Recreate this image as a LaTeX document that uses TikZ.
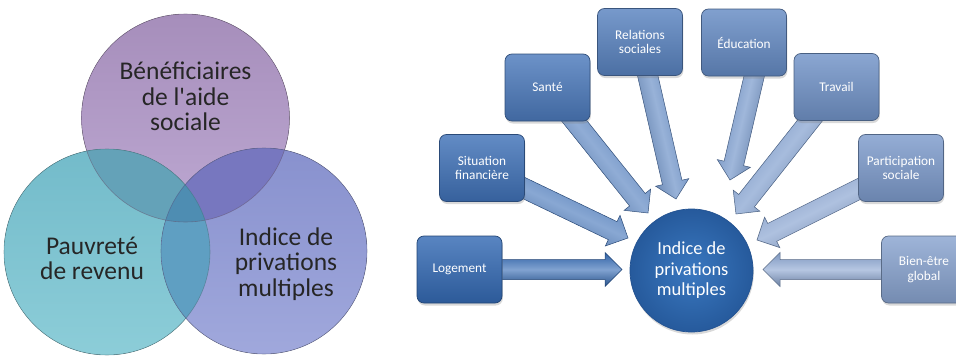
\documentclass[tikz,border=0pt]{standalone}
\usepackage{fontspec}
\setmainfont{Carlito}
\usetikzlibrary{calc,shadows,backgrounds}
\definecolor{c1}{RGB}{52,106,180}
\definecolor{c2}{RGB}{64,114,184}
\definecolor{c3}{RGB}{76,122,188}
\definecolor{c4}{RGB}{89,131,192}
\definecolor{c5}{RGB}{101,139,196}
\definecolor{c6}{RGB}{113,147,200}
\definecolor{c7}{RGB}{125,155,204}
\definecolor{c8}{RGB}{137,164,208}
\definecolor{ctrin}{RGB}{58,120,192}
\definecolor{ctrout}{RGB}{38,90,156}
\definecolor{ctrdraw}{RGB}{35,82,145}
\definecolor{Ptop}{RGB}{166,142,187}
\definecolor{Pbot}{RGB}{189,168,210}
\definecolor{Ttop}{RGB}{115,187,202}
\definecolor{Tbot}{RGB}{140,205,216}
\definecolor{Btop}{RGB}{136,145,206}
\definecolor{Bbot}{RGB}{160,168,220}
\definecolor{PT}{RGB}{100,162,184}
\definecolor{PB}{RGB}{119,119,191}
\definecolor{TB}{RGB}{95,159,194}
\definecolor{PTB}{RGB}{78,141,178}
\tikzset{
  boxnode/.style={draw=#1!65!black, line width=0.7pt, rounded corners=7pt,
    top color=#1!82!white, bottom color=#1!85!black,
    minimum width=85pt, minimum height=67pt, text=white,
    font=\fontsize{13.3}{14.5}\selectfont, align=center, inner sep=2pt,
    drop shadow={shadow xshift=0.8pt, shadow yshift=-2.5pt, opacity=0.3}},
  barrow/.style={draw=#1!65!black, line width=0.5pt,
    top color=#1!92!black, bottom color=#1!78!black, middle color=#1!62!white},
  venntext/.style={text=black!85, align=center, inner sep=0pt,
    font=\fontsize{25.5}{25.5}\selectfont},
  centrenode/.style={circle, minimum size=123pt, inner sep=0pt, text=white,
    shading=radial, inner color=ctrin, outer color=ctrout, draw=ctrdraw, line width=0.7pt,
    align=center, font=\fontsize{18.4}{20.5}\selectfont,
    drop shadow={shadow xshift=0.8pt, shadow yshift=-2.5pt, opacity=0.3}},
  circline/.style={draw=#1, line width=0.6pt, opacity=0.55}
}
\newcommand\blockarrow[4]{%
  \coordinate (#1-#2-h) at ($(#2)!17pt!(#1)$);
  \path[barrow=#4, shading angle=#3]
    ($(#1)!10pt!90:(#2)$) -- ($(#1-#2-h)!10pt!90:(#2)$) -- ($(#1-#2-h)!17pt!90:(#2)$)
    -- (#2) -- ($(#1-#2-h)!17pt!-90:(#2)$) -- ($(#1-#2-h)!10pt!-90:(#2)$)
    -- ($(#1)!10pt!-90:(#2)$) -- cycle;
}
\def\topc{(185.5,118) circle[radius=104]}
\def\leftc{(107,252) circle[radius=103]}
\def\rightc{(264,251) circle[radius=103]}
\begin{document}
\begin{tikzpicture}[x=1pt,y=-1pt]
\useasboundingbox (0,0) rectangle (956,356);
\clip (0,0) rectangle (956,356);
% Venn diagram
\fill[top color=Ptop, bottom color=Pbot] \topc;
\fill[top color=Ttop, bottom color=Tbot] \leftc;
\fill[top color=Btop, bottom color=Bbot] \rightc;
\begin{scope}\clip \topc; \fill[PT] \leftc; \end{scope}
\begin{scope}\clip \topc; \fill[PB] \rightc; \end{scope}
\begin{scope}\clip \leftc; \fill[TB] \rightc; \end{scope}
\begin{scope}\clip \topc; \clip \leftc; \fill[PTB] \rightc; \end{scope}
\path[circline=Ptop!60!black] \topc;
\path[circline=Ttop!60!black] \leftc;
\path[circline=Btop!60!black] \rightc;
\node[venntext] (vtop) at (185.5,96.5) {Bénéficiaires\\de l\textquotesingle aide\\sociale};
\node[venntext] (vleft) at (92,258.5) {Pauvreté\\de revenu};
\node[venntext] (vright) at (286,264) {Indice de\\privations\\multiples};
% Right diagram
\node[centrenode] (idx) at (691.5,270.5) {Indice de\\privations\\multiples};
\node[boxnode=c1] (log) at (459.5,269.5) {Logement};
\node[boxnode=c2] (sit) at (482,168) {Situation\\financière};
\node[boxnode=c3] (san) at (547.5,87.5) {Santé};
\node[boxnode=c4] (rel) at (640,42) {Relations\\sociales};
\node[boxnode=c5] (edu) at (744,42.5) {Éducation};
\node[boxnode=c6] (tra) at (836.5,87) {Travail};
\node[boxnode=c7] (par) at (901,168) {Participation\\sociale};
\node[boxnode=c8] (bie) at (924,269.5) {Bien-être\\global};
\coordinate (eduS) at ($(edu)+(18,0)$);
\coordinate (tLog) at (622,269.5);
\coordinate (tSit) at (628,238);
\coordinate (tSan) at (648,213);
\coordinate (tRel) at (676,199);
\coordinate (tEdu) at (730,180);
\coordinate (tTra) at (736,214);
\coordinate (tPar) at (757,240);
\coordinate (tBie) at (763,269.5);
\begin{pgfonlayer}{background}
\blockarrow{log}{tLog}{0}{c1}
\blockarrow{sit}{tSit}{-25.6}{c2}
\blockarrow{san}{tSan}{-51.3}{c3}
\blockarrow{rel}{tRel}{-77.1}{c4}
\blockarrow{eduS}{tEdu}{76.9}{c5}
\blockarrow{tra}{tTra}{51.6}{c6}
\blockarrow{par}{tPar}{26.6}{c7}
\blockarrow{bie}{tBie}{0}{c8}
\end{pgfonlayer}
\end{tikzpicture}
\end{document}
